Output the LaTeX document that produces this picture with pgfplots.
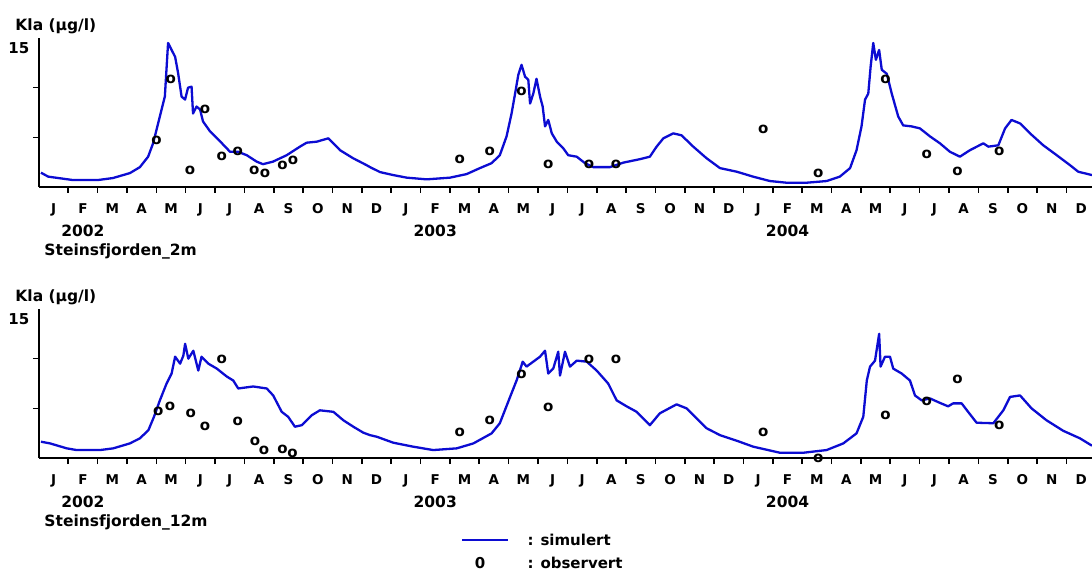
\documentclass[border=0pt]{standalone}
\usepackage{fontspec}
\setmainfont{DejaVu Sans}
\usepackage{pgfplots}
\pgfplotsset{compat=1.18}
\definecolor{simblue}{RGB}{12,12,210}

\pgfplotsset{
  panel/.style={
    scale only axis, width=1053.1pt, height=149pt,
    xmin=0, xmax=35.87, ymin=0, ymax=15,
    axis x line=bottom, axis y line=left,
    axis line style={-, line width=2pt, black},
    tick align=outside,
    xtick={1,2,...,35}, xticklabels={},
    ytick={5,10}, yticklabels={},
    major tick length=6pt,
    every tick/.style={black, line width=1.6pt},
    extra x ticks={0.5,1.5,...,35.5},
    extra x tick labels={J,F,M,A,M,J,J,A,S,O,N,D,J,F,M,A,M,J,J,A,S,O,N,D,J,F,M,A,M,J,J,A,S,O,N,D},
    extra x tick style={major tick length=0pt,
      xticklabel style={font=\fontsize{13.5}{14}\selectfont\bfseries, anchor=north, yshift=-13pt}},
    clip=false,
  },
  sim/.style={simblue, line width=2.3pt, line join=round},
  obs/.style={black, only marks, mark=text, text mark={\fontsize{15}{15}\selectfont\bfseries o}},
}

\begin{document}
\begin{tikzpicture}
\useasboundingbox (0,0) rectangle (1092pt,574pt);

% ---------------- top panel ----------------
\begin{axis}[panel, at={(38.9pt,387pt)}, anchor=south west]
\addplot[sim] coordinates {
(0.07,1.44)(0.32,1.04)(1.16,0.7)(2.01,0.7)(2.52,0.9)(3.10,1.4)(3.44,2.0)(3.72,3.05)
(3.89,4.4)(4.12,7.1)(4.29,9.1)(4.40,14.5)(4.52,13.8)(4.64,13.1)(4.74,11.5)(4.86,9.1)
(4.98,8.8)(5.08,10.0)(5.20,10.1)(5.25,7.4)(5.37,8.1)(5.49,7.8)(5.59,6.6)(5.83,5.6)
(6.17,4.6)(6.51,3.55)(6.78,3.55)(7.08,3.2)(7.42,2.55)(7.63,2.3)(7.97,2.55)(8.44,3.2)
(8.89,4.06)(9.12,4.46)(9.46,4.56)(9.86,4.9)(10.26,3.7)(10.70,2.9)(11.16,2.2)(11.28,2.0)
(11.62,1.5)(12.07,1.2)(12.53,0.94)(13.21,0.77)(14.00,0.94)(14.57,1.3)(15.02,1.9)(15.42,2.4)
(15.70,3.2)(15.93,5.1)(16.10,7.4)(16.22,9.4)(16.33,11.3)(16.44,12.3)(16.56,11.1)(16.67,10.8)
(16.73,8.4)(16.84,9.4)(16.95,10.9)(17.07,9.1)(17.16,8.1)(17.24,6.1)(17.35,6.75)(17.47,5.4)
(17.64,4.56)(17.86,3.9)(18.03,3.2)(18.32,3.05)(18.60,2.4)(18.88,2.0)(19.45,2.0)(19.90,2.45)
(20.47,2.8)(20.81,3.05)(21.04,4.06)(21.27,4.9)(21.61,5.4)(21.89,5.2)(22.29,4.06)(22.74,2.9)
(23.20,1.9)(23.77,1.54)(24.33,1.04)(24.90,0.6)(25.47,0.43)(26.15,0.43)(26.83,0.6)(27.28,1.04)
(27.63,1.9)(27.85,3.7)(28.02,6.1)(28.14,8.8)(28.25,9.4)(28.33,12.1)(28.42,14.5)(28.51,12.8)
(28.62,13.8)(28.71,11.8)(28.88,11.4)(29.05,9.4)(29.27,7.1)(29.44,6.2)(29.73,6.1)(30.01,5.9)
(30.35,5.1)(30.69,4.4)(31.03,3.55)(31.37,3.05)(31.71,3.7)(32.17,4.4)(32.34,4.06)(32.68,4.2)
(32.91,5.9)(33.13,6.75)(33.42,6.4)(33.76,5.4)(34.21,4.2)(34.67,3.2)(35.12,2.2)(35.40,1.54)
(35.87,1.2)
};
\addplot[obs] coordinates {
(4.01,4.7)(4.49,10.8)(5.15,1.64)(5.66,7.8)(6.23,3.05)(6.77,3.55)(7.34,1.7)(7.70,1.38)
(8.30,2.2)(8.66,2.7)(14.34,2.8)(15.36,3.55)(16.44,9.6)(17.35,2.3)(18.74,2.3)(19.66,2.3)
(24.67,5.8)(26.55,1.38)(28.84,10.85)(30.24,3.3)(31.29,1.54)(32.71,3.55)
};
\node[font=\fontsize{15.5}{16}\selectfont\bfseries, anchor=west] at (axis cs:0,15) [xshift=-27pt, yshift=12pt] {Kla (µg/l)};
\node[font=\fontsize{15}{15}\selectfont\bfseries, anchor=east] at (axis cs:0,15) [xshift=-6pt, yshift=-10pt] {15};
\node[font=\fontsize{15.5}{16}\selectfont\bfseries] at (axis cs:1.5,0) [yshift=-44pt] {2002};
\node[font=\fontsize{15.5}{16}\selectfont\bfseries] at (axis cs:13.5,0) [yshift=-44pt] {2003};
\node[font=\fontsize{15.5}{16}\selectfont\bfseries] at (axis cs:25.5,0) [yshift=-44pt] {2004};
\node[font=\fontsize{15.5}{16}\selectfont\bfseries, anchor=west] at (axis cs:0,0) [xshift=2pt, yshift=-64pt] {Steinsfjorden\_2m};
\end{axis}

% ---------------- bottom panel ----------------
\begin{axis}[panel, at={(38.9pt,116pt)}, anchor=south west]
\addplot[sim] coordinates {
(0.07,1.64)(0.38,1.47)(0.95,0.97)(1.29,0.8)(2.08,0.8)(2.53,0.97)(3.10,1.47)(3.44,1.98)
(3.73,2.8)(3.92,4.15)(4.12,5.8)(4.35,7.5)(4.52,8.5)(4.64,10.2)(4.81,9.5)(4.92,10.3)
(4.98,11.5)(5.09,10.0)(5.26,10.8)(5.43,8.8)(5.54,10.2)(5.77,9.5)(6.06,9.0)(6.40,8.2)
(6.62,7.8)(6.79,7.0)(7.30,7.2)(7.76,7.0)(7.98,6.3)(8.27,4.65)(8.49,4.15)(8.72,3.15)
(8.95,3.3)(9.29,4.3)(9.57,4.8)(10.03,4.65)(10.37,3.8)(10.71,3.15)(11.05,2.55)(11.28,2.3)
(11.51,2.14)(12.07,1.54)(12.75,1.14)(13.43,0.8)(14.23,0.97)(14.80,1.47)(15.42,2.48)(15.70,3.5)
(16.05,6.15)(16.27,7.8)(16.48,9.7)(16.61,9.2)(16.84,9.7)(17.07,10.2)(17.24,10.8)(17.35,8.5)
(17.52,9.0)(17.69,10.7)(17.75,8.3)(17.92,10.7)(18.09,9.2)(18.32,9.8)(18.66,9.7)(19.00,8.8)
(19.39,7.5)(19.68,5.8)(20.02,5.2)(20.36,4.65)(20.81,3.3)(21.15,4.5)(21.72,5.4)(22.06,5.0)
(22.74,3.0)(23.20,2.3)(23.77,1.74)(24.33,1.14)(25.24,0.53)(26.04,0.53)(26.83,0.8)(27.40,1.47)
(27.85,2.48)(28.08,4.15)(28.20,7.8)(28.31,9.2)(28.48,9.8)(28.62,12.5)(28.67,9.2)(28.82,10.2)
(28.99,10.2)(29.10,9.0)(29.39,8.5)(29.67,7.8)(29.84,6.3)(30.07,5.8)(30.35,6.0)(30.69,5.55)
(30.97,5.2)(31.14,5.5)(31.43,5.5)(31.65,4.65)(31.94,3.55)(32.51,3.5)(32.85,4.8)(33.08,6.15)
(33.42,6.3)(33.81,5.0)(34.32,3.8)(34.89,2.74)(35.46,1.98)(35.87,1.24)
};
\addplot[obs] coordinates {
(4.07,4.65)(4.47,5.2)(5.17,4.5)(5.66,3.15)(6.23,9.9)(6.77,3.65)(7.36,1.64)(7.67,0.8)
(8.30,0.87)(8.64,0.47)(14.34,2.54)(15.36,3.8)(16.44,8.4)(17.35,5.1)(18.74,9.9)(19.66,9.9)
(24.67,2.54)(26.55,0.0)(28.84,4.3)(30.24,5.65)(31.29,7.9)(32.71,3.3)
};
\node[font=\fontsize{15.5}{16}\selectfont\bfseries, anchor=west] at (axis cs:0,15) [xshift=-27pt, yshift=12pt] {Kla (µg/l)};
\node[font=\fontsize{15}{15}\selectfont\bfseries, anchor=east] at (axis cs:0,15) [xshift=-6pt, yshift=-10pt] {15};
\node[font=\fontsize{15.5}{16}\selectfont\bfseries] at (axis cs:1.5,0) [yshift=-44pt] {2002};
\node[font=\fontsize{15.5}{16}\selectfont\bfseries] at (axis cs:13.5,0) [yshift=-44pt] {2003};
\node[font=\fontsize{15.5}{16}\selectfont\bfseries] at (axis cs:25.5,0) [yshift=-44pt] {2004};
\node[font=\fontsize{15.5}{16}\selectfont\bfseries, anchor=west] at (axis cs:0,0) [xshift=2pt, yshift=-64pt] {Steinsfjorden\_12m};
\end{axis}

% ---------------- legend ----------------
\draw[simblue, line width=2.4pt] (462pt,34pt) -- (508pt,34pt);
\node[font=\fontsize{15}{15}\selectfont\bfseries, anchor=west] at (524pt,34pt) {: simulert};
\node[font=\fontsize{15}{15}\selectfont\bfseries] at (480pt,11pt) {0};
\node[font=\fontsize{15}{15}\selectfont\bfseries, anchor=west] at (524pt,11pt) {: observert};
\end{tikzpicture}
\end{document}
